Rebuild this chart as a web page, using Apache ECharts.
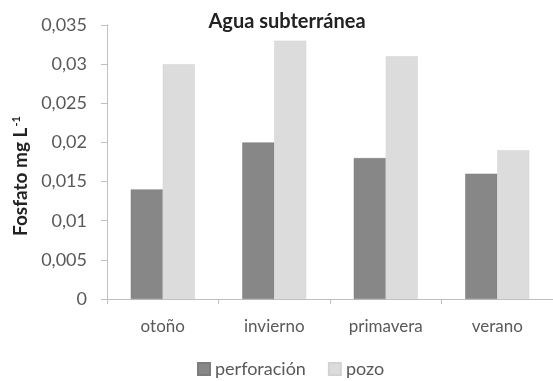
<!DOCTYPE html>
<html><head><meta charset="utf-8">
<script src="https://cdn.jsdelivr.net/npm/echarts@6/dist/echarts.min.js"></script>
<style>html,body{margin:0;padding:0;background:#fff}#c{width:553px;height:381px}</style>
</head><body><div id="c"></div>
<script>
const categories = ['otoño', 'invierno', 'primavera', 'verano'];
const perforacion = [0.014, 0.020, 0.018, 0.016];
const pozo = [0.030, 0.033, 0.031, 0.019];
const seriesNames = ['perforación', 'pozo'];
const yTicks = ['0', '0,005', '0,01', '0,015', '0,02', '0,025', '0,03', '0,035'];

const chart = echarts.init(document.getElementById('c'));
const font = 'Lato, "Open Sans", sans-serif';
chart.setOption({
  animation: false,
  title: {
    text: 'Agua subterránea', left: 282, top: 7, textAlign: 'center',
    textStyle: { fontFamily: font, fontSize: 20, fontWeight: 'bold', color: '#222' }
  },
  legend: {
    data: seriesNames, top: 355, left: 192, itemWidth: 12, itemHeight: 12, itemGap: 22,
    icon: 'rect',
    textStyle: { fontFamily: font, fontSize: 18, color: '#595959' }
  },
  grid: { left: 107, top: 25, width: 448, height: 274, containLabel: false },
  xAxis: {
    type: 'category', data: categories,
    axisLine: { lineStyle: { color: '#bfbfbf' } },
    axisTick: { show: true, length: 5, lineStyle: { color: '#bfbfbf' } },
    axisLabel: { fontFamily: font, fontSize: 17, color: '#595959', margin: 19 }
  },
  yAxis: {
    type: 'value', min: 0, max: 0.035, interval: 0.005,
    name: '{b|Fosfato mg L}{s|-1}', nameLocation: 'middle', nameGap: 73, nameRotate: 90,
    nameTextStyle: { padding: [0, 28, 0, 0], rich: {
      b: { fontFamily: font, fontSize: 19, fontWeight: 'bold', color: '#222' },
      s: { fontFamily: font, fontSize: 11, fontWeight: 'bold', color: '#222', verticalAlign: 'top', padding: [0,0,9,1] }
    } },
    axisLine: { show: true, lineStyle: { color: '#bfbfbf' } },
    axisTick: { show: true, length: 6, lineStyle: { color: '#bfbfbf' } },
    splitLine: { show: false },
    axisLabel: { fontFamily: font, fontSize: 18, color: '#595959', margin: 20,
      formatter: (v) => yTicks[Math.round(v / 0.005)] }
  },
  series: [
    { name: seriesNames[0], type: 'bar', data: perforacion, barWidth: 32, barGap: '0%',
      itemStyle: { color: '#878787', borderColor: '#7c7c7c', borderWidth: 0.5 } },
    { name: seriesNames[1], type: 'bar', data: pozo, barWidth: 32,
      itemStyle: { color: '#dcdcdc', borderColor: '#d2d2d2', borderWidth: 0.5 } }
  ]
});
</script></body></html>
